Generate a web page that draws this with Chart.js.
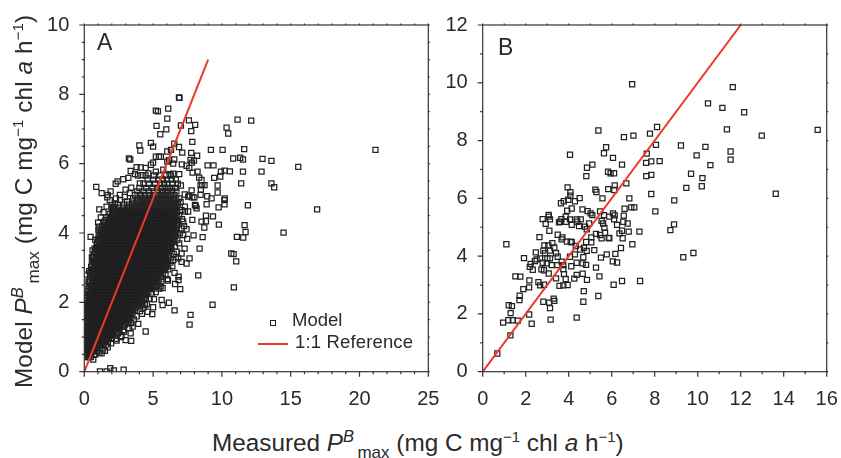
<!DOCTYPE html>
<html>
<head>
<meta charset="utf-8">
<title>Measured vs model PBmax</title>
<script src="https://cdn.jsdelivr.net/npm/chart.js@4"></script>
<style>
  html, body { margin: 0; padding: 0; background: #fff; }
  #wrap { position: relative; width: 841px; height: 458px; overflow: hidden; font-family: "Liberation Sans", Arial, sans-serif; color: #2a2a2a; }
  canvas { position: absolute; top: 0; }
  .txt { position: absolute; white-space: nowrap; line-height: 1; }
  .title { font-size: 24.3px; }
  .title sup { font-size: 16.5px; font-style: italic; line-height: 0; vertical-align: 9px; }
  .title sup.n { font-style: normal; font-size: 15px; }
  .title sub { font-size: 17px; line-height: 0; vertical-align: -7px; }
  .legend { font-size: 18.5px; }
  .panel { font-size: 23px; }
</style>
</head>
<body>
<div id="wrap">
  <canvas id="panelA" width="448" height="410" style="left:0"></canvas>
  <canvas id="panelB" width="402" height="410" style="left:445px"></canvas>

  <div class="txt panel" style="left:97px;top:31px">A</div>
  <div class="txt panel" style="left:498px;top:36px">B</div>

  <div style="position:absolute;left:269.9px;top:319.5px;width:4.6px;height:4.6px;border:1.2px solid #222"></div>
  <div class="txt legend" style="left:292px;top:311px">Model</div>
  <div style="position:absolute;left:258px;top:343px;width:30px;height:2px;background:#ea3a28"></div>
  <div class="txt legend" style="left:295px;top:333px;letter-spacing:.15px">1:1 Reference</div>

  <div class="txt title" style="left:212px;top:431px">Measured <i>P</i><sup>B</sup><sub>&#8201;max</sub> (mg C mg<sup class="n">&minus;1</sup> chl <i>a</i> h<sup class="n">&minus;1</sup>)</div>
  <div class="txt title" style="left:12px;top:388px;letter-spacing:.1px;transform-origin:0 0;transform:rotate(-90deg)">Model <i>P</i><sup>B</sup><sub>&#8201;max</sub> (mg C mg<sup class="n">&minus;1</sup> chl <i>a</i> h<sup class="n">&minus;1</sup>)</div>
</div>

<script>
// Panel A: squares that can be told apart as [measured, model]
const panelAScatter = [
  [21.16,6.4],[6.88,7.91],[6.92,7.9],[5.2,7.53],[5.35,7.51],[6.1,7.59],[6.03,7.3],[7.6,7.25],[8.06,7.12],[7.02,7.1],
  [5.25,7.09],[5.96,6.99],[7.77,6.94],[5.52,6.85],[11.14,7.27],[12.13,7.24],[10.34,7.04],[10.46,6.87],[7.85,6.63],
  [4.84,6.6],[4.0,6.53],[5.0,6.49],[4.07,6.38],[6.54,6.58],[6.88,6.48],[6.03,6.35],[6.3,6.4],[7.12,6.32],[7.77,6.31],
  [8.2,6.23],[9.2,6.4],[10.05,6.4],[11.62,6.42],[10.82,6.15],[11.33,6.17],[11.53,6.12],[12.95,6.14],[13.6,6.08],
  [15.55,5.91],[8.96,5.95],[9.39,5.95],[10.2,5.8],[9.93,5.77],[10.58,5.78],[11.53,5.77],[12.88,5.77],[9.44,5.59],
  [9.88,5.63],[11.4,5.43],[13.6,5.43],[13.8,5.32],[9.69,5.37],[9.69,5.17],[10.2,5.0],[0.87,5.33],[1.26,5.15],[1.91,5.2],
  [1.7,5.1],[1.67,5.03],[2.28,5.42],[2.42,5.49],[2.83,5.55],[3.2,5.59],[3.24,6.15],[3.34,6.12],[3.37,5.79],[3.8,5.9],
  [4.1,5.89],[4.46,5.88],[4.84,5.97],[5.0,6.03],[5.42,6.2],[5.56,6.2],[5.2,6.2],[6.03,6.06],[6.15,6.1],[6.54,6.12],
  [6.46,6.0],[7.09,5.98],[7.43,5.94],[7.63,5.88],[7.97,6.09],[7.72,6.11],[7.82,6.03],[7.87,5.74],[8.23,5.77],[8.35,5.6],
  [8.52,5.53],[8.45,5.38],[8.57,5.38],[8.74,5.38],[8.47,5.25],[7.8,5.23],[7.3,5.11],[7.63,5.08],[8.0,5.03],[8.45,5.1],
  [8.93,5.06],[9.25,5.0],[7.02,5.37],[6.46,5.71],[6.9,5.7],[6.2,5.7],[5.74,5.83],[5.2,5.77],[4.65,5.72],[4.16,5.67],
  [3.68,5.7],[4.04,5.43],[3.41,5.31],[2.59,5.1],[2.95,5.04],[16.92,4.68],[14.48,4.01],[11.89,4.8],[10.19,4.95],
  [10.19,4.83],[9.76,4.74],[8.89,4.83],[8.84,4.5],[9.35,4.48],[8.52,4.33],[8.84,4.34],[8.72,4.16],[9.78,4.24],
  [11.65,4.23],[11.72,4.03],[11.09,3.89],[11.55,3.87],[8.6,3.88],[7.94,3.93],[7.48,3.83],[7.85,4.38],[10.68,3.41],
  [10.85,3.39],[11.04,3.18],[8.38,3.55],[7.29,3.55],[7.65,3.27],[7.43,3.12],[8.28,2.78],[10.87,2.43],[9.32,1.93],
  [7.72,1.64],[7.65,1.36],[1.14,0.01],[1.62,0.01],[1.89,0.1],[2.15,0.04],[2.86,0.06],[6.56,2.85],[6.85,2.74],[6.85,2.64],
  [6.6,2.53],[6.97,2.38],[6.03,2.67],[6.08,2.63],[5.55,2.46],[5.69,2.41],[5.45,2.4],[6.15,1.99],[5.62,2.07],[5.06,2.09],
  [5.69,1.92],[6.56,1.77],[5.0,1.86],[4.94,1.66],[4.6,1.73],[4.19,1.67],[3.92,1.38],[4.46,1.16],[3.41,0.89],[3.0,0.91],
  [2.71,1.03],[3.37,1.11],[3.51,1.3],[2.95,1.36],[2.35,0.9],[1.6,0.78],[1.26,0.53],[1.33,0.61],[0.46,3.89],[1.09,4.68],
  [0.94,3.72],[0.46,0.43],[0.17,0.48],[1.98,4.81],[2.23,4.84],[1.62,4.76],[2.1,4.57],[1.45,4.33],[1.09,4.18],[1.02,4.1],
  [7.07,4.66],[7.31,4.62],[7.55,4.62],[7.31,4.76],[8.16,4.71],[8.04,4.81],[7.55,5.05],[7.85,5.03],[8.1,4.78],[7.19,4.33],
  [7.07,4.13],[7.43,4.11],[6.95,3.99],[7.19,3.94],[6.76,3.8],[6.59,3.61],[6.71,3.46],[6.46,3.22],[7.07,3.41],[6.83,3.27],
  [7.07,3.17],[5.98,3.08],[5.86,2.98],[5.38,2.84],[4.48,2.12],[4.41,1.92],[3.56,1.78],[3.07,1.59],[3.2,1.44],[2.83,1.2],
  [2.47,1.11],[1.99,0.96],
  // rough edge of the black mass
  [6.9,4.5],[7.1,4.4],[6.85,4.25],[7.25,4.2],[6.95,4.75],[6.8,4.85],[6.9,5.0],[7.0,4.9],[6.75,4.6],[6.9,3.7],[6.6,3.9],
  [6.65,3.3],[6.5,3.4],[6.4,3.05],[6.25,3.15],[6.1,2.95],[5.9,2.8],[5.6,2.6],[5.3,2.5],[5.2,2.3],[4.9,2.25],[4.75,2.1],
  [4.55,1.95],[4.3,1.85],[4.05,1.75],[3.8,1.6],[3.6,1.5],[3.4,1.4],[3.25,1.25],[2.9,1.15],[2.65,1.0],[2.3,0.95],[1.95,0.82],
  [1.7,0.7],[1.5,0.6],[1.1,0.55],[0.8,0.5],[0.65,0.35],[0.3,2.6],[0.35,2.9],[0.2,2.8],[0.55,3.3],[0.6,3.5],[0.8,3.8],
  [0.75,3.55],[1.0,4.3],[1.2,4.45],[1.4,4.6],[1.85,4.95],[2.3,5.0],[2.6,4.95],[3.0,5.25],[3.3,5.15],[2.1,4.75]
];

// Panel A: the solid black mass, squares overlap too much to read singly.
// Estimated row by row from its outline: [model, measured, measured, ...]
const panelACloud = [
  [0.42,.12,.3,.48],
  [0.5,.1,.28,.5,.72],
  [0.59,.06,.24,.45,.7,.92],
  [0.68,.05,.25,.48,.72,.95,1.16],
  [0.77,.06,.3,.52,.78,1,1.25,1.4],
  [0.86,.04,.27,.5,.75,1.02,1.25,1.5,1.72],
  [0.95,.06,.3,.55,.8,1.05,1.3,1.55,1.78,2],
  [1.04,.04,.18,.43,.68,.93,1.18,1.43,1.68,1.93,2.2],
  [1.13,.07,.32,.57,.82,1.07,1.32,1.57,1.82,2.07,2.35],
  [1.22,.05,.18,.43,.68,.93,1.18,1.43,1.68,1.93,2.18,2.43,2.55],
  [1.31,.08,.33,.58,.83,1.08,1.33,1.58,1.83,2.08,2.33,2.58,2.8],
  [1.4,.05,.2,.45,.7,.95,1.2,1.45,1.7,1.95,2.2,2.45,2.7,2.95],
  [1.49,.07,.33,.58,.83,1.08,1.33,1.58,1.83,2.08,2.33,2.58,2.83,3.08,3.2],
  [1.58,.05,.2,.45,.7,.95,1.2,1.45,1.7,1.95,2.2,2.45,2.7,2.95,3.2,3.35],
  [1.67,.08,.32,.57,.82,1.07,1.32,1.57,1.82,2.07,2.32,2.57,2.82,3.07,3.32,3.5],
  [1.76,.06,.2,.45,.7,.95,1.2,1.45,1.7,1.95,2.2,2.45,2.7,2.95,3.2,3.45,3.68],
  [1.85,.08,.33,.58,.83,1.08,1.33,1.58,1.83,2.08,2.33,2.58,2.83,3.08,3.33,3.58,3.8],
  [1.94,.1,.2,.45,.7,.95,1.2,1.45,1.7,1.95,2.2,2.45,2.7,2.95,3.2,3.45,3.7,3.95,4.1],
  [2.03,.2,.33,.58,.83,1.08,1.33,1.58,1.83,2.08,2.33,2.58,2.83,3.08,3.33,3.58,3.83,4.08,4.22],
  [2.12,.2,.45,.7,.95,1.2,1.45,1.7,1.95,2.2,2.45,2.7,2.95,3.2,3.45,3.7,3.95,4.2,4.35],
  [2.21,.22,.33,.58,.83,1.08,1.33,1.58,1.83,2.08,2.33,2.58,2.83,3.08,3.33,3.58,3.83,4.08,4.33,4.5],
  [2.3,.25,.45,.7,.95,1.2,1.45,1.7,1.95,2.2,2.45,2.7,2.95,3.2,3.45,3.7,3.95,4.2,4.45,4.65],
  [2.39,.3,.55,.8,1.05,1.3,1.55,1.8,2.05,2.3,2.55,2.8,3.05,3.3,3.55,3.8,4.05,4.3,4.55,4.8,4.95],
  [2.48,.33,.45,.7,.95,1.2,1.45,1.7,1.95,2.2,2.45,2.7,2.95,3.2,3.45,3.7,3.95,4.2,4.45,4.7,4.95,5.15],
  [2.57,.38,.58,.83,1.08,1.33,1.58,1.83,2.08,2.33,2.58,2.83,3.08,3.33,3.58,3.83,4.08,4.33,4.58,4.83,5.08,5.33],
  [2.66,.4,.7,.95,1.2,1.45,1.7,1.95,2.2,2.45,2.7,2.95,3.2,3.45,3.7,3.95,4.2,4.45,4.7,4.95,5.2,5.45],
  [2.75,.42,.58,.83,1.08,1.33,1.58,1.83,2.08,2.33,2.58,2.83,3.08,3.33,3.58,3.83,4.08,4.33,4.58,4.83,5.08,5.33,5.58],
  [2.84,.45,.7,.95,1.2,1.45,1.7,1.95,2.2,2.45,2.7,2.95,3.2,3.45,3.7,3.95,4.2,4.45,4.7,4.95,5.2,5.45,5.7],
  [2.93,.48,.6,.85,1.1,1.35,1.6,1.85,2.1,2.35,2.6,2.85,3.1,3.35,3.6,3.85,4.1,4.35,4.6,4.85,5.1,5.35,5.6,5.85],
  [3.02,.5,.73,.98,1.23,1.48,1.73,1.98,2.23,2.48,2.73,2.98,3.23,3.48,3.73,3.98,4.23,4.48,4.73,4.98,5.23,5.48,5.73,5.95],
  [3.11,.55,.8,1.05,1.3,1.55,1.8,2.05,2.3,2.55,2.8,3.05,3.3,3.55,3.8,4.05,4.3,4.55,4.8,5.05,5.3,5.55,5.8,6.02],
  [3.2,.6,.7,.95,1.2,1.45,1.7,1.95,2.2,2.45,2.7,2.95,3.2,3.45,3.7,3.95,4.2,4.45,4.7,4.95,5.2,5.45,5.7,5.95,6.08],
  [3.29,.65,.85,1.1,1.35,1.6,1.85,2.1,2.35,2.6,2.85,3.1,3.35,3.6,3.85,4.1,4.35,4.6,4.85,5.1,5.35,5.6,5.85,6.1],
  [3.38,.7,.95,1.2,1.45,1.7,1.95,2.2,2.45,2.7,2.95,3.2,3.45,3.7,3.95,4.2,4.45,4.7,4.95,5.2,5.45,5.7,5.95,6.15],
  [3.47,.8,1.05,1.3,1.55,1.8,2.05,2.3,2.55,2.8,3.05,3.3,3.55,3.8,4.05,4.3,4.55,4.8,5.05,5.3,5.55,5.8,6.05,6.2],
  [3.56,.86,.95,1.2,1.45,1.7,1.95,2.2,2.45,2.7,2.95,3.2,3.45,3.7,3.95,4.2,4.45,4.7,4.95,5.2,5.45,5.7,5.95,6.2,6.3],
  [3.65,.9,1.08,1.33,1.58,1.83,2.08,2.33,2.58,2.83,3.08,3.33,3.58,3.83,4.08,4.33,4.58,4.83,5.08,5.33,5.58,5.83,6.08,6.33],
  [3.74,.95,1.2,1.45,1.7,1.95,2.2,2.45,2.7,2.95,3.2,3.45,3.7,3.95,4.2,4.45,4.7,4.95,5.2,5.45,5.7,5.95,6.2,6.42],
  [3.83,1.0,1.3,1.55,1.8,2.05,2.3,2.55,2.8,3.05,3.3,3.55,3.8,4.05,4.3,4.55,4.8,5.05,5.3,5.55,5.8,6.05,6.3,6.5],
  [3.92,1.05,1.2,1.45,1.7,1.95,2.2,2.45,2.7,2.95,3.2,3.45,3.7,3.95,4.2,4.45,4.7,4.95,5.2,5.45,5.7,5.95,6.2,6.45,6.6],
  [4.01,1.1,1.33,1.58,1.83,2.08,2.33,2.58,2.83,3.08,3.33,3.58,3.83,4.08,4.33,4.58,4.83,5.08,5.33,5.58,5.83,6.08,6.33,6.58,6.7],
  [4.1,1.2,1.45,1.7,1.95,2.2,2.45,2.7,2.95,3.2,3.45,3.7,3.95,4.2,4.45,4.7,4.95,5.2,5.45,5.7,5.95,6.2,6.45,6.68],
  [4.19,1.3,1.55,1.8,2.05,2.3,2.55,2.8,3.05,3.3,3.55,3.8,4.05,4.3,4.55,4.8,5.05,5.3,5.55,5.8,6.05,6.3,6.55,6.72],
  [4.28,1.45,1.7,1.95,2.2,2.45,2.7,2.95,3.2,3.45,3.7,3.95,4.2,4.45,4.7,4.95,5.2,5.45,5.7,5.95,6.2,6.45,6.7],
  [4.37,1.55,1.83,2.08,2.33,2.58,2.83,3.08,3.33,3.58,3.83,4.08,4.33,4.58,4.83,5.08,5.33,5.58,5.83,6.08,6.33,6.58,6.75],
  [4.46,1.7,1.95,2.2,2.45,2.7,2.95,3.2,3.45,3.7,3.95,4.2,4.45,4.7,4.95,5.2,5.45,5.7,5.95,6.2,6.45,6.7],
  [4.55,1.85,2.1,2.35,2.6,2.85,3.1,3.35,3.6,3.85,4.1,4.35,4.6,4.85,5.1,5.35,5.6,5.85,6.1,6.35,6.6],
  [4.64,2.0,2.3,2.55,2.8,3.05,3.3,3.55,3.8,4.05,4.3,4.55,4.8,5.05,5.3,5.55,5.8,6.05,6.3,6.55,6.72],
  [4.73,2.15,2.5,2.8,3.1,3.35,3.6,3.85,4.1,4.35,4.6,4.85,5.1,5.35,5.6,5.85,6.1,6.35,6.6],
  [4.82,2.45,2.9,3.25,3.5,3.75,4.0,4.25,4.5,4.75,5.0,5.25,5.5,5.75,6.0,6.25,6.5,6.7],
  [4.91,3.1,3.5,3.8,4.05,4.3,4.55,4.8,5.05,5.3,5.55,5.8,6.05,6.3,6.55],
  [5.0,3.55,3.9,4.2,4.45,4.7,4.95,5.2,5.45,5.7,5.95,6.2,6.45,6.68],
  [5.1,3.7,4.1,4.4,4.75,5.0,5.3,5.55,5.8,6.05,6.3,6.55],
  [5.2,3.85,4.3,4.7,5.05,5.35,5.65,5.9,6.1,6.4,6.7],
  [5.3,4.0,4.5,4.95,5.3,5.6,5.85,6.1,6.35,6.6],
  [5.42,4.3,4.7,5.15,5.5,5.8,6.05,6.4,6.8],
  [5.54,4.6,5.0,5.4,5.7,6.0,6.35,6.65],
  [5.66,3.9,4.45,5.05,5.5,5.95,6.3]
];

// Panel B: every square as [measured, model]
const panelBPoints = [
  [6.95,9.95],[11.63,9.85],[10.48,9.29],[11.15,9.13],[12.16,8.98],[8.11,8.47],[11.36,8.39],[5.38,8.35],[15.58,8.37],
  [7.78,8.24],[7.01,8.17],[6.57,8.12],[12.98,8.17],[8.06,7.85],[9.22,7.83],[5.74,7.77],[10.36,7.78],[5.64,7.56],
  [4.06,7.51],[7.63,7.55],[11.53,7.62],[11.53,7.34],[6.06,7.4],[9.95,7.49],[7.6,7.23],[7.84,7.28],[8.23,7.29],[6.48,7.17],
  [5.1,7.17],[4.85,7.06],[10.59,7.15],[5.83,6.92],[5.95,6.87],[6.11,6.87],[9.69,6.85],[4.82,6.77],[7.61,6.77],[7.84,6.81],
  [10.22,6.7],[6.68,6.52],[6.14,6.45],[9.47,6.36],[10.19,6.42],[3.95,6.38],[5.24,6.3],[5.29,6.22],[5.84,6.32],[6.12,6.29],
  [4.08,6.21],[7.84,6.15],[13.63,6.16],[4.08,6.09],[4.51,6.01],[5.57,6.0],[6.82,6.0],[8.91,5.93],[3.77,5.9],[3.98,5.95],
  [4.29,5.9],[8.03,5.55],[3.64,5.83],[4.14,5.65],[3.93,5.57],[4.64,5.62],[4.88,5.56],[5.02,5.48],[5.1,5.42],[5.46,5.55],
  [5.64,5.42],[5.88,5.37],[6.06,5.48],[6.14,5.41],[6.56,5.4],[6.6,5.64],[6.91,5.69],[7.05,5.69],[3.07,5.43],[3.07,5.37],
  [2.79,5.28],[3.13,5.27],[2.93,5.12],[3.55,5.17],[3.6,5.19],[3.66,5.28],[3.86,5.37],[3.88,5.19],[4.06,5.27],[4.14,5.08],
  [4.37,5.27],[4.56,5.27],[4.4,5.19],[4.48,5.04],[4.76,5.02],[4.95,5.13],[4.84,4.93],[5.53,5.22],[5.6,5.13],[5.66,4.98],
  [6.11,5.27],[6.25,5.08],[6.54,5.19],[6.74,5.13],[6.48,4.88],[6.36,4.79],[6.79,4.85],[7.29,4.85],[6.51,4.62],[5.89,4.62],
  [3.1,4.88],[3.49,4.74],[2.64,4.66],[3.71,4.65],[3.67,4.58],[3.92,4.5],[4.09,4.5],[4.14,4.48],[5.05,4.65],[5.27,4.77],
  [5.46,4.73],[5.53,4.62],[5.69,4.81],[5.86,4.63],[4.81,4.49],[5.05,4.48],[1.1,4.41],[2.87,4.37],[3.24,4.45],[3.05,4.37],
  [3.33,4.3],[4.33,4.35],[4.71,4.29],[4.53,4.23],[5.19,4.21],[6.43,4.28],[6.96,4.41],[2.47,4.13],[2.82,4.19],[2.9,4.1],
  [3.13,4.19],[3.41,4.1],[3.49,3.98],[4.29,4.06],[4.84,4.18],[5.77,4.06],[6.17,4.08],[9.8,4.11],[9.33,3.96],[8.73,4.9],
  [8.9,5.1],[1.92,3.93],[2.51,3.89],[2.43,3.83],[2.67,3.92],[3.01,3.93],[3.13,3.92],[4.06,3.98],[4.68,3.96],[5.5,3.95],
  [2.23,3.73],[2.19,3.63],[2.33,3.53],[2.79,3.77],[2.98,3.75],[3.21,3.69],[3.47,3.69],[3.67,3.81],[3.75,3.69],[4.12,3.65],
  [4.37,3.77],[4.65,3.75],[4.81,3.7],[6.05,3.82],[6.25,3.78],[5.27,3.6],[2.73,3.54],[2.85,3.51],[3.07,3.4],[3.75,3.55],
  [3.78,3.38],[1.52,3.3],[1.75,3.29],[3.41,3.23],[3.86,3.21],[4.26,3.22],[4.37,3.35],[4.65,3.39],[4.85,3.18],[5.43,3.3],
  [2.17,3.16],[2.59,3.1],[6.48,3.14],[7.32,3.14],[2.67,2.99],[2.85,3.01],[3.57,2.97],[3.75,2.99],[3.95,3.0],[6.09,3.01],
  [2.16,2.92],[1.89,2.86],[4.7,2.79],[1.72,2.63],[1.71,2.48],[5.38,2.62],[3.3,2.53],[3.33,2.45],[2.82,2.42],[3.09,2.39],
  [4.68,2.42],[1.21,2.3],[1.36,2.27],[3.13,2.2],[1.3,2.03],[2.16,1.98],[4.37,1.87],[1.19,1.78],[1.4,1.78],[1.63,1.77],
  [3.16,1.8],[0.95,1.7],[2.28,1.66],[1.29,1.26],[0.68,0.63]
];

const panelAReference = [[0, 0], [9, 9]];
const panelBReference = [[0, 0], [12, 12]];

const CHART_BOTTOM = 371.7, CHART_TOP = 25;
const INK = '#2a2a2a', FRAME = '#333';

// Ticks stick out of the frame, long on major labelled ones, so they are drawn by hand
const frameTicks = {
  id: 'frameTicks',
  afterDraw(chart) {
    const { ctx, chartArea: a, scales: { x, y } } = chart;
    ctx.save();
    ctx.strokeStyle = FRAME;
    ctx.lineWidth = 1.2;
    ctx.strokeRect(a.left, a.top, a.right - a.left, a.bottom - a.top);
    ctx.beginPath();
    x.ticks.forEach(t => {
      const px = x.getPixelForValue(t.value), len = t.label !== '' ? 5 : 2.5;
      ctx.moveTo(px, a.bottom); ctx.lineTo(px, a.bottom + len);
      ctx.moveTo(px, a.top); ctx.lineTo(px, a.top - 1.5);
    });
    y.ticks.forEach(t => {
      const py = y.getPixelForValue(t.value), len = t.label !== '' ? 5 : 2.5;
      ctx.moveTo(a.left, py); ctx.lineTo(a.left - len, py);
      ctx.moveTo(a.right, py); ctx.lineTo(a.right + 1.5, py);
    });
    ctx.stroke();
    ctx.restore();
  },
};

function axis(max, step, labelEvery, pad) {
  return {
    type: 'linear', min: 0, max,
    grid: { display: false }, border: { display: false },
    ticks: {
      stepSize: step, autoSkip: false, maxRotation: 0, padding: pad, color: INK,
      font: { family: '"Liberation Sans", Arial, sans-serif', size: 20 },
      callback: v => (v % labelEvery === 0 ? String(v) : ''),
    },
  };
}

const toXY = ([x, y]) => ({ x, y });

function squares(label, points, fill) {
  return { label, data: points.map(toXY), pointStyle: 'rect', pointRadius: 3.6, pointHoverRadius: 3.6,
    borderColor: '#222', backgroundColor: fill, borderWidth: 1.25, order: 1 };
}

function makePanel(id, datasets, reference, o) {
  const scales = { x: axis(o.xMax, 1, o.xEvery, 8), y: axis(o.yMax, o.yStep, 2, 7) };
  scales.x.afterFit = s => { s.height = o.height - CHART_BOTTOM; };
  scales.y.afterFit = s => { s.width = o.left; };
  return new Chart(document.getElementById(id), {
    type: 'scatter',
    data: {
      datasets: [
        ...datasets,
        { label: '1:1 Reference', type: 'line', data: reference.map(toXY), borderColor: '#ea3a28', borderWidth: 2,
          pointRadius: 0, fill: false, tension: 0, order: 0 },
      ],
    },
    options: {
      animation: false, responsive: false,
      layout: { padding: { top: CHART_TOP, right: o.right, left: 0, bottom: 0 } },
      plugins: { legend: { display: false }, tooltip: { enabled: false } },
      scales,
    },
    plugins: [frameTicks],
  });
}

// Inside the mass the squares merge to black, so those get filled. Row ends and the thin top rows stay open.
const SOLID_BELOW = 4.73;
const cloudInner = [], cloudOpen = [];
panelACloud.forEach(([model, ...xs]) => {
  xs.forEach((x, i) => {
    const inner = model < SOLID_BELOW && i > 0 && i < xs.length - 1;
    (inner ? cloudInner : cloudOpen).push([x, model]);
  });
});

// right padding has to stay above ticks.padding + half a label or Chart.js shrinks the plot
makePanel('panelA',
  [squares('Model', panelAScatter.concat(cloudOpen), 'transparent'), squares('Model (dense)', cloudInner, '#1b1b1f')],
  panelAReference, { xMax: 25, xEvery: 5, yMax: 10, yStep: 0.5, left: 84.3, right: 19.7, height: 410 });
makePanel('panelB', [squares('Model', panelBPoints, 'transparent')],
  panelBReference, { xMax: 16, xEvery: 2, yMax: 12, yStep: 1, left: 37.7, right: 20.3, height: 410 });
</script>
</body>
</html>
